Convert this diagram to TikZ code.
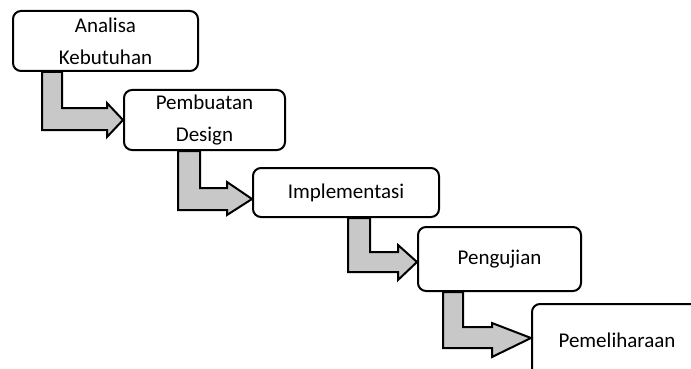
\documentclass[tikz,border=0pt]{standalone}
\usepackage{fontspec}
\setmainfont{Carlito}
\definecolor{arrowgray}{RGB}{200,200,200}
\begin{document}
\begin{tikzpicture}[x=1pt,y=-1pt,
  stage/.style={draw=black, line width=2pt, rounded corners=8pt, fill=white,
    inner sep=0pt, align=center, font=\fontsize{21}{32}\selectfont},
  bentarrow/.style={draw=black, line width=2pt, fill=arrowgray, line join=miter}]
\useasboundingbox (0,0) rectangle (691,369);
\clip (0,0) rectangle (691,369);
% stages
\node[stage, minimum width=185pt, minimum height=60pt] (b1) at (105.5,41) {Analisa\\Kebutuhan};
\node[stage, minimum width=161pt, minimum height=60pt] (b2) at (204.5,120) {Pembuatan\\Design};
\node[stage, minimum width=186pt, minimum height=49pt] (b3) at (346,192.5) {Implementasi};
\node[stage, minimum width=163pt, minimum height=64pt] (b4) at (499.5,259) {Pengujian};
\node[stage, minimum width=170pt, minimum height=72pt] (b5) at (617,340) {Pemeliharaan};
% bent arrows
\draw[bentarrow] (42,0 |- b1.south) -- (62,0 |- b1.south) -- (62,108) -- (107,108) -- (107,103)
  -- (b2.west) -- (107,137) -- (107,130) -- (42,130) -- cycle;
\draw[bentarrow] (178,0 |- b2.south) -- (200,0 |- b2.south) -- (200,188) -- (227,188) -- (227,182)
  -- (b3.west |- 0,199) -- (227,215) -- (227,210) -- (178,210) -- cycle;
\draw[bentarrow] (348,0 |- b3.south) -- (370,0 |- b3.south) -- (370,252) -- (398,252) -- (398,245)
  -- (b4.west |- 0,262) -- (398,280) -- (398,272) -- (348,272) -- cycle;
\draw[bentarrow] (443,0 |- b4.south) -- (463,0 |- b4.south) -- (463,327) -- (492,327) -- (492,323)
  -- (b5.west |- 0,338) -- (492,357) -- (492,348) -- (443,348) -- cycle;
\end{tikzpicture}
\end{document}
